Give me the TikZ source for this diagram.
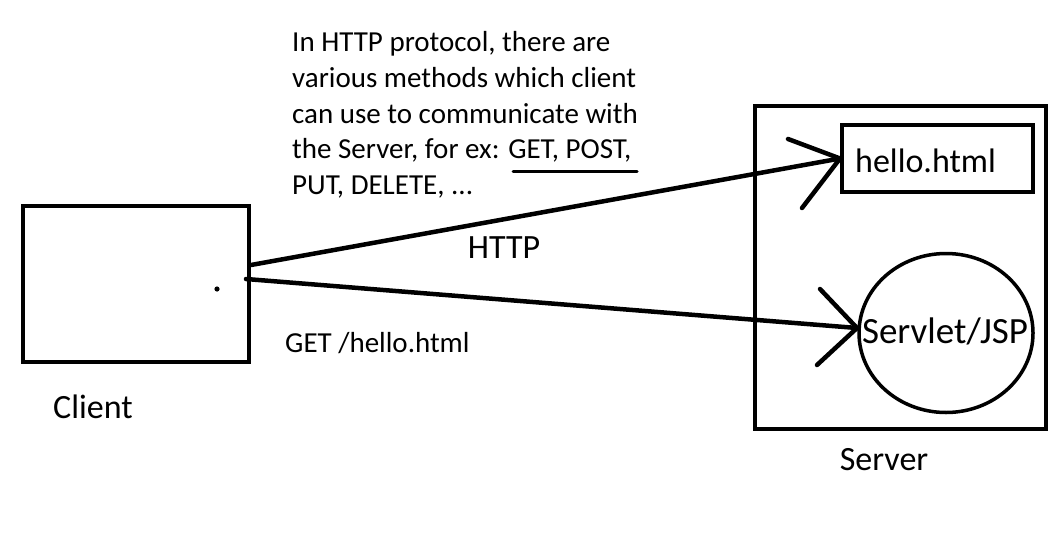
\documentclass[tikz,border=0pt]{standalone}
\usepackage{fontspec}
\setmainfont{Carlito}
\usetikzlibrary{shapes.geometric}
\begin{document}
\begin{tikzpicture}[x=1pt,y=-1pt,
  big/.style={font=\fontsize{34}{41}\selectfont, inner sep=0pt},
  mid/.style={font=\fontsize{29}{35}\selectfont, inner sep=0pt, anchor=base west},
  boxnode/.style={draw, line width=4pt, rectangle, inner sep=0pt},
  conn/.style={line width=4.5pt, line cap=round, line join=round}]
\useasboundingbox (0,0) rectangle (1064,551);
\fill[white] (0,0) rectangle (1064,551);
% client
\node[boxnode, minimum width=226pt, minimum height=156pt] (client) at (136,284) {};
\fill (217,289) circle (2.6pt);
\node[big, anchor=base] (clientlbl) at (93,418) {Client};
% server
\node[boxnode, minimum width=291pt, minimum height=323pt] (server) at (900.5,267.5) {};
\node[big, anchor=base] (serverlbl) at (884,470) {Server};
\node[boxnode, minimum width=191pt, minimum height=67pt] (hello) at (937.5,158.5) {};
\node[big, anchor=base west] (hellotxt) at (855,172) {hello.html};
\node[draw, ellipse, line width=3.5pt, minimum width=174pt, minimum height=159pt, inner sep=0pt] (servlet) at (946,333) {};
\node[big, font=\fontsize{37}{44}\selectfont, anchor=base] (servlettxt) at (945,343) {Servlet/JSP};
% text
\node[mid] (p1) at (292,52) {In HTTP protocol, there are};
\node[mid] (p2) at (292,87.5) {various methods which client};
\node[mid] (p3) at (292,123) {can use to communicate with};
\node[mid] (p4) at (292,158.5) {the Server, for ex: GET, POST,};
\node[mid] (p5) at (292,194) {PUT, DELETE, ...};
\draw[line width=3pt, line cap=round] (513,171) -- (637,171);
\node[big, anchor=base] (http) at (504,258) {HTTP};
\node[mid] (get) at (285,352) {GET /hello.html};
% connectors
\coordinate (c1) at (251,265);
\coordinate (c2) at (246,279);
\coordinate (h1) at (788,139);
\coordinate (h2) at (802,208);
\coordinate (s1) at (820,289);
\coordinate (s2) at (817,365);
\coordinate (t2) at (857,328);
\draw[conn] (c1) -- (hello.west);
\draw[conn] (h1) -- (hello.west) -- (h2);
\draw[conn] (c2) -- (t2);
\draw[conn] (s1) -- (t2) -- (s2);
\end{tikzpicture}
\end{document}
